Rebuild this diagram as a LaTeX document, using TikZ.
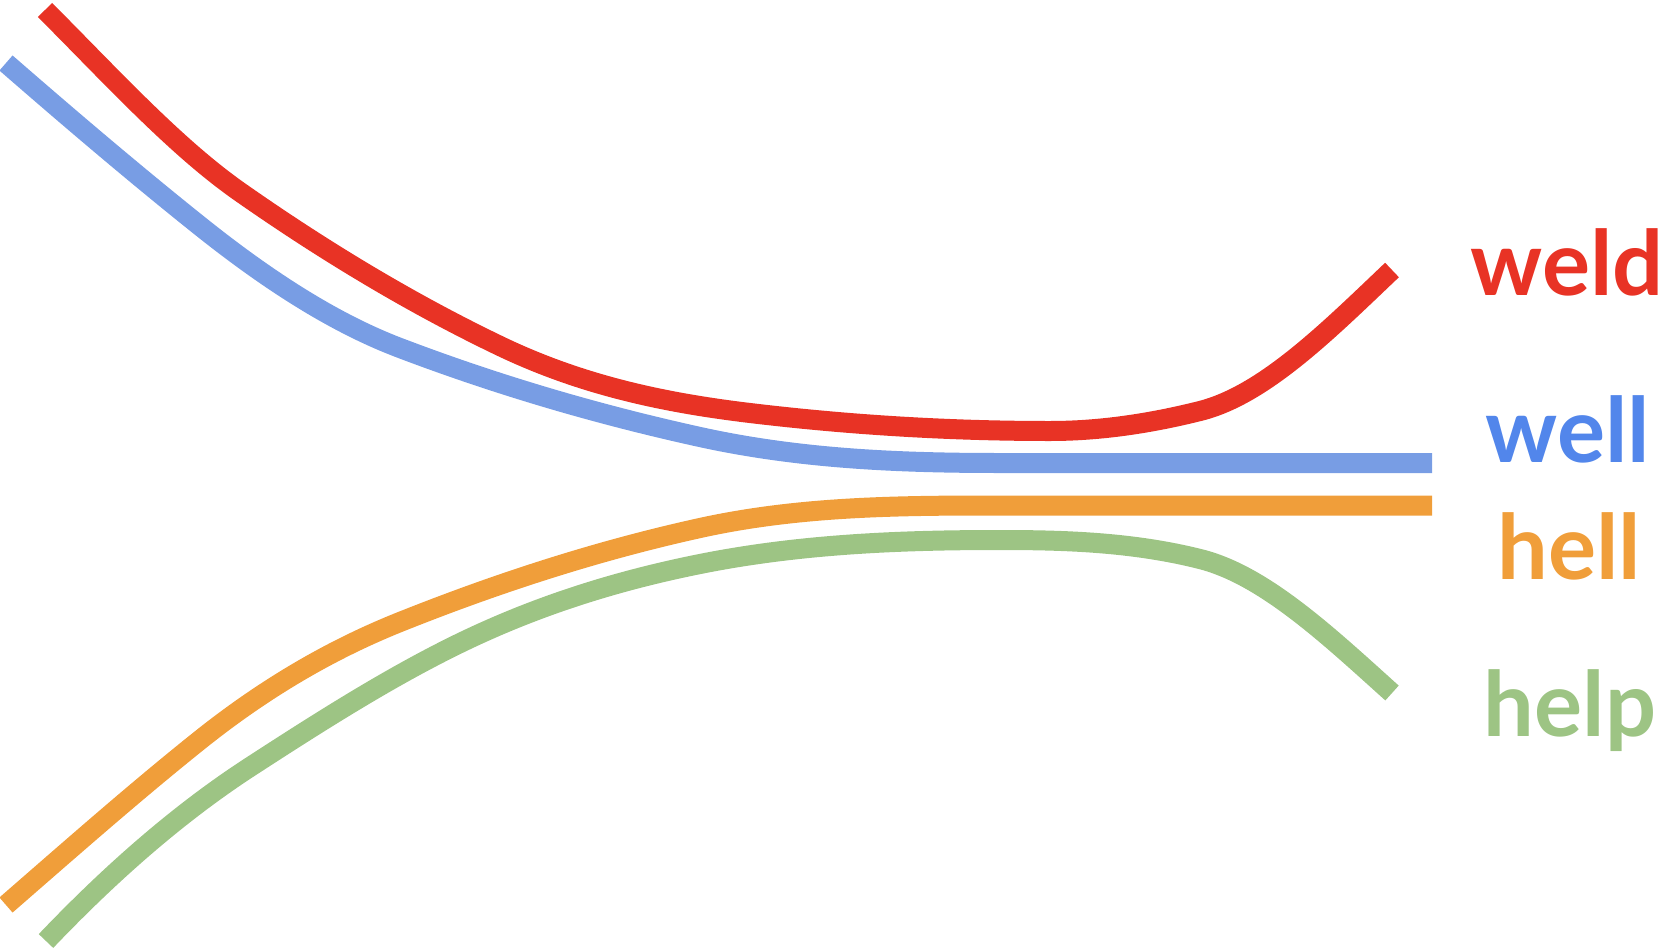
\documentclass[tikz,border=0pt]{standalone}
\usepackage{fontspec}
\newfontfamily\lato{Lato}
\definecolor{cred}{HTML}{E83325}
\definecolor{cblue}{HTML}{789DE4}
\definecolor{cbluet}{HTML}{5286EB}
\definecolor{corange}{HTML}{F09E3A}
\definecolor{cgreen}{HTML}{9DC484}
\tikzset{
  curve/.style={line width=20pt, line cap=butt, line join=round},
  lab/.style={anchor=base, inner sep=0pt, font=\lato\bfseries\fontsize{90}{100}\selectfont}
}
\begin{document}
\begin{tikzpicture}[x=1pt,y=-1pt]
\useasboundingbox (0,0) rectangle (1661,950);
% red (weld)
\draw[curve, cred] (45,10)
  .. controls (110,75) and (175,146.5) .. (240,192)
  .. controls (326.7,252.7) and (413.3,304.4) .. (500,346)
  .. controls (583.3,386) and (666.7,403) .. (750,413)
  .. controls (850,425) and (950,431) .. (1050,431)
  .. controls (1100,431) and (1150,423.5) .. (1200,411)
  .. controls (1264,395) and (1328,330.8) .. (1392,270);
% blue (well)
\draw[curve, cblue] (6,63)
  .. controls (70.7,119.3) and (135.3,174.3) .. (200,226)
  .. controls (266.7,279.3) and (333.3,322.7) .. (400,348)
  .. controls (500,386) and (600,415) .. (700,437)
  .. controls (800,459) and (900,463) .. (1000,463)
  -- (1432,463);
% orange (hell)
\draw[curve, corange] (6,905)
  .. controls (70.7,848.7) and (135.3,791.7) .. (200,740)
  .. controls (266.7,686.7) and (333.3,648.7) .. (400,622)
  .. controls (500,582) and (600,550) .. (700,528)
  .. controls (800,506) and (900,505.5) .. (1000,505.5)
  -- (1432,505.5);
% green (help)
\draw[curve, cgreen] (46,941)
  .. controls (114,869.6) and (182,811.2) .. (250,767)
  .. controls (316.7,723.7) and (383.3,681.3) .. (450,648)
  .. controls (533.3,606.3) and (616.7,580.7) .. (700,564)
  .. controls (800,544) and (900,540) .. (1000,540)
  .. controls (1066.7,540) and (1133.3,542.3) .. (1200,559)
  .. controls (1264,575) and (1328,635.4) .. (1392,693);
\node[lab, text=cred] (weld) at (1567,295.5) {weld};
\node[lab, text=cbluet] (well) at (1568,462) {well};
\node[lab, text=corange] (hell) at (1569,579) {hell};
\node[lab, text=cgreen] (help) at (1570,736) {help};
\end{tikzpicture}
\end{document}
